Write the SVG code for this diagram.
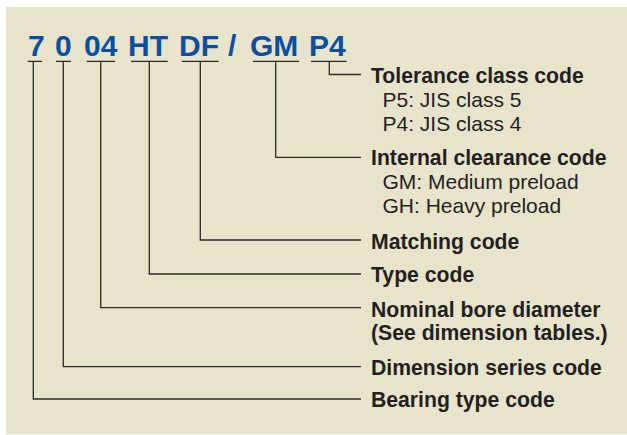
<svg xmlns="http://www.w3.org/2000/svg" width="627" height="435" viewBox="0 0 627 435">
<style>
.code{font-family:"Liberation Sans",Arial,sans-serif;font-weight:bold;font-size:30px;fill:#0b4fa1}
.lbl{font-family:"Liberation Sans",Arial,sans-serif;font-weight:bold;font-size:21.2px;fill:#231f20}
.sub{font-family:"Liberation Sans",Arial,sans-serif;font-size:21px;fill:#231f20}
.ln{fill:none;stroke:#2a2a2a;stroke-width:1.3}
</style>
<rect x="6" y="7" width="621" height="427.5" fill="#e8e4cc"/>
<g id="code">
<text class="code" x="28" y="56">7</text>
<text class="code" x="55" y="56">0</text>
<text class="code" x="84" y="56">04</text>
<text class="code" x="128" y="56">HT</text>
<text class="code" x="179" y="56">DF</text>
<text class="code" x="228" y="56">/</text>
<text class="code" x="250" y="56">GM</text>
<text class="code" x="309" y="56">P4</text>
</g>
<g id="connectors" class="ln">
<path d="M27.7 61.3H42M33.3 61.3V399H361"/>
<path d="M56 61.3H71M63.3 61.3V366.7H361"/>
<path d="M86.7 61.3H115M100.7 61.3V307.7H361"/>
<path d="M131 61.3H167.7M149.3 61.3V274H361"/>
<path d="M181.7 61.3H218.7M200.3 61.3V240H361"/>
<path d="M253 61.3H299M275.7 61.3V157.3H361"/>
<path d="M311 61.3H346.7M329.3 61.3V74.5H361"/>
</g>
<g id="tolerance">
<text class="lbl" x="371" y="83.3">Tolerance class code</text>
<text class="sub" x="382.5" y="106.7">P5: JIS class 5</text>
<text class="sub" x="382.5" y="130.7">P4: JIS class 4</text>
</g>
<g id="clearance">
<text class="lbl" x="371" y="165.3">Internal clearance code</text>
<text class="sub" x="382.5" y="189">GM: Medium preload</text>
<text class="sub" x="382.5" y="212.7">GH: Heavy preload</text>
</g>
<g id="matching"><text class="lbl" x="371" y="249.3">Matching code</text></g>
<g id="type"><text class="lbl" x="371" y="282">Type code</text></g>
<g id="bore">
<text class="lbl" x="371" y="316.7">Nominal bore diameter</text>
<text class="lbl" x="371" y="340">(See dimension tables.)</text>
</g>
<g id="series"><text class="lbl" x="371" y="375.3">Dimension series code</text></g>
<g id="bearingtype"><text class="lbl" x="371" y="406.7">Bearing type code</text></g>
</svg>
